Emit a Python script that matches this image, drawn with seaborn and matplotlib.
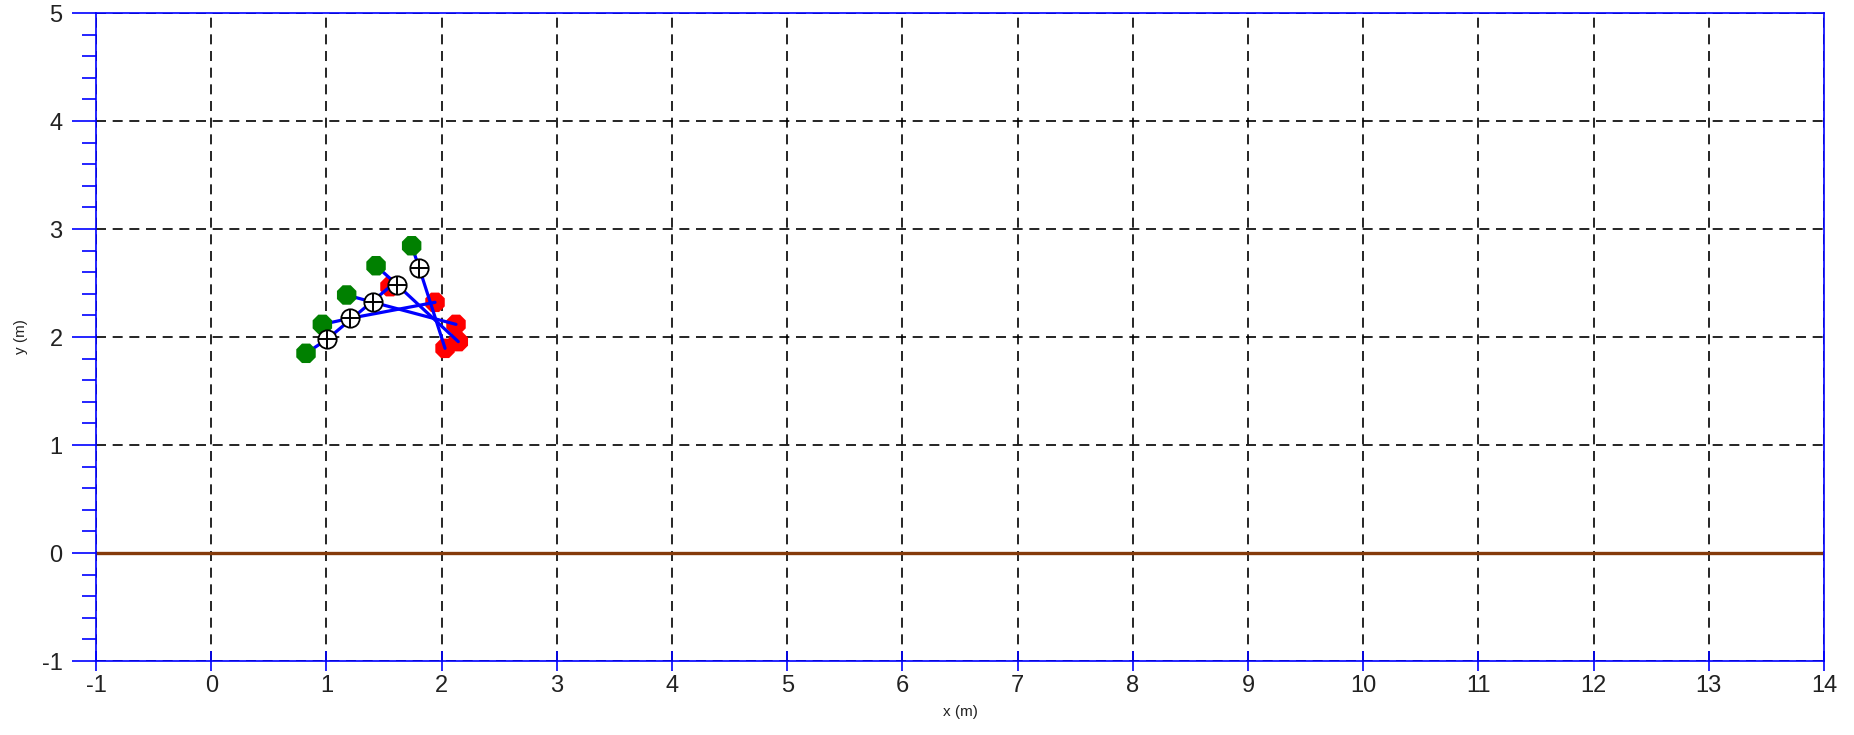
import numpy as np
import pandas as pd
import matplotlib
matplotlib.use("Agg")
import matplotlib.pyplot as plt
import seaborn as sns
from matplotlib.ticker import MultipleLocator

# snapshots of the body: head (green), centre (white), foot (red)
head_x = [0.823, 0.965, 1.176, 1.431, 1.740]
head_y = [1.849, 2.117, 2.389, 2.660, 2.845]
hip_x = [1.008, 1.205, 1.407, 1.616, 1.807]
hip_y = [1.981, 2.173, 2.321, 2.481, 2.636]
foot_x = [1.552, 1.943, 2.125, 2.145, 2.030]
foot_y = [2.466, 2.321, 2.117, 1.957, 1.895]

ground_x = [-1, 14]
ground_y = [0, 0]

x_ticks = list(range(-1, 15))
y_ticks = list(range(-1, 6))

# one polyline per snapshot: head -> centre -> foot
rows = []
for i in range(len(hip_x)):
    rows.append((i, 0, head_x[i], head_y[i]))
    rows.append((i, 1, hip_x[i], hip_y[i]))
    rows.append((i, 2, foot_x[i], foot_y[i]))
seg = pd.DataFrame(rows, columns=["frame", "order", "x", "y"])

sns.set_style("white")
plt.rcParams["font.family"] = ["Liberation Sans", "DejaVu Sans"]
plt.rcParams["axes.unicode_minus"] = False

fig = plt.figure(figsize=(18.54, 7.35), dpi=100)
ax = fig.add_axes([96 / 1854, 1 - 661 / 735, 1728 / 1854, 648 / 735])

sns.lineplot(x=ground_x, y=ground_y, color="#853a0a", lw=2.4, ax=ax, zorder=2)

sns.scatterplot(x=foot_x, y=foot_y, marker="8", s=230, color="#ff0000",
                edgecolor="none", ax=ax, zorder=3)
sns.lineplot(data=seg, x="x", y="y", units="frame", estimator=None, sort=False,
             color="#0000ff", lw=2.3, ax=ax, zorder=4)
sns.scatterplot(x=head_x, y=head_y, marker="8", s=230, color="#008000",
                edgecolor="none", ax=ax, zorder=5)
sns.scatterplot(x=hip_x, y=hip_y, marker="o", s=175, color="white",
                edgecolor="black", linewidth=1.3, ax=ax, zorder=6)
sns.scatterplot(x=hip_x, y=hip_y, marker="+", s=175, color="black",
                linewidth=1.4, ax=ax, zorder=7)

ax.set_xlim(-1, 14)
ax.set_ylim(-1, 5)
ax.set_xticks(x_ticks)
ax.set_yticks(y_ticks)
ax.yaxis.set_minor_locator(MultipleLocator(0.2))

ax.grid(True, which="major", color="black", linestyle=(0, (6, 4)), lw=1.2)
ax.set_axisbelow(True)

for s in ax.spines.values():
    s.set_visible(True)
    s.set_color("#0000ff")
    s.set_linewidth(1.2)

ax.tick_params(axis="y", which="major", direction="out", length=17, width=1.2,
               color="#0000ff", labelsize=17, labelcolor="#222222", pad=7,
               left=True, right=False)
ax.tick_params(axis="y", which="minor", direction="out", length=10, width=1.2,
               color="#0000ff", left=True, right=False)
ax.tick_params(axis="x", which="major", direction="inout", length=14, width=1.2,
               color="#0000ff", labelsize=17, labelcolor="#222222", pad=3,
               bottom=True, top=False)

ax.set_xlabel("x (m)", fontsize=11, color="#222222", labelpad=6)
ax.set_ylabel("y (m)", fontsize=11, color="#222222", labelpad=10)

fig.savefig("out.png", dpi=100)
